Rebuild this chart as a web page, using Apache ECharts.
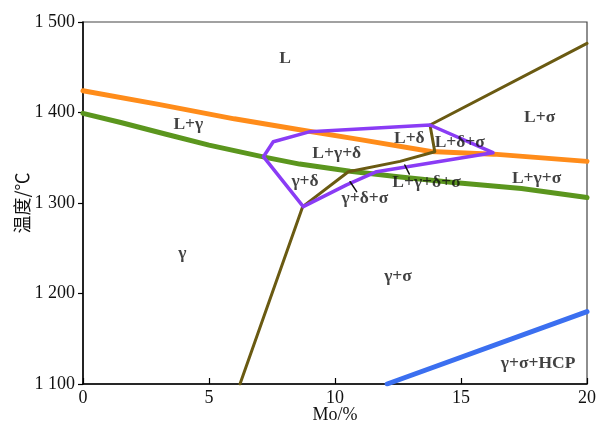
<!DOCTYPE html>
<html>
<head>
<meta charset="utf-8">
<script src="https://cdn.jsdelivr.net/npm/echarts@6/dist/echarts.min.js"></script>
<style>
  html, body { margin: 0; padding: 0; background: #fff; }
  #chart { width: 597px; height: 426px; }
</style>
</head>
<body>
<div id="chart"></div>
<script>
// Fe–Cr–Ni–Mo section: temperature vs. Mo content
const xTicks = [0, 5, 10, 15, 20];
const yTicks = [1100, 1200, 1300, 1400, 1500];

// Boundary lines, [Mo %, temperature °C]
const liquidusOrange = [[0, 1424], [3, 1409], [6, 1393], [8.6, 1381], [11, 1370], [13.8, 1357], [16.3, 1354], [20, 1346]];
const solidusGreen = [[0, 1399], [1.5, 1389], [3.3, 1376], [5, 1364], [7.15, 1351], [8.6, 1343], [10.6, 1335], [12.5, 1329], [14.6, 1323], [17.4, 1316], [20, 1306]];
const hcpBlue = [[12.07, 1100], [20, 1180]];
const sigmaOlive = [[6.23, 1100], [8.72, 1296], [10.53, 1334.6], [12.58, 1346], [13.96, 1356.7], [13.77, 1386.2], [20, 1476.4]];
const deltaPurple = [[7.16, 1351.2], [7.55, 1367.7], [9.01, 1378.8], [13.77, 1386.2], [16.27, 1355.6], [11.65, 1334.6], [10.46, 1320], [8.74, 1296], [7.16, 1351.2]];
const leaderA = [[10.6, 1323.5], [10.86, 1312.5]];
const leaderB = [[12.77, 1342], [12.95, 1332]];

// Phase-field labels
const phaseNames = ['L', 'L+γ', 'L+δ', 'L+δ+σ', 'L+σ', 'L+γ+δ', 'γ+δ', 'L+γ+δ+σ', 'γ+δ+σ', 'L+γ+σ', 'γ', 'γ+σ', 'γ+σ+HCP'];
const phaseX = [8.02, 4.18, 12.95, 14.95, 18.12, 10.07, 8.81, 13.63, 11.19, 18.0, 3.94, 12.5, 18.06];
const phaseY = [1460, 1387, 1371, 1366.7, 1395, 1355, 1323.5, 1322.5, 1305, 1327, 1244, 1219, 1123];

const serif = "'Liberation Serif', 'Times New Roman', serif";

function lineSeries(data, color, width) {
  return {
    type: 'line', data: data, showSymbol: false, symbol: 'none',
    lineStyle: { color: color, width: width, cap: 'round', join: 'round' },
    silent: true, animation: false, z: 3
  };
}

const chart = echarts.init(document.getElementById('chart'), null, { renderer: 'canvas' });

chart.setOption({
  animation: false,
  backgroundColor: '#ffffff',
  grid: {
    left: 83, right: 10, top: 22, bottom: 42,
    containLabel: false, outerBoundsMode: 'none',
    show: true, borderColor: '#444', borderWidth: 1.2, backgroundColor: 'transparent'
  },
  xAxis: {
    type: 'value', min: xTicks[0], max: xTicks[xTicks.length - 1], interval: 5,
    name: 'Mo/%', nameLocation: 'middle', nameGap: 22, nameMoveOverlap: false,
    nameTextStyle: { fontFamily: serif, fontSize: 18, color: '#111' },
    axisLine: { lineStyle: { color: '#000', width: 1.5 } },
    axisTick: { inside: true, length: 6, lineStyle: { color: '#000', width: 1.2 } },
    axisLabel: { fontFamily: serif, fontSize: 18, color: '#111', margin: 5 },
    splitLine: { show: false }
  },
  yAxis: {
    type: 'value', min: yTicks[0], max: yTicks[yTicks.length - 1], interval: 100,
    name: '温度/℃', nameLocation: 'middle', nameGap: 52, nameRotate: 90, nameMoveOverlap: false,
    nameTextStyle: { fontFamily: "'Noto Sans CJK SC', sans-serif", fontSize: 18, color: '#111' },
    axisLine: { lineStyle: { color: '#000', width: 1.5 } },
    axisTick: { inside: false, length: 5, lineStyle: { color: '#000', width: 1.2 } },
    axisLabel: {
      fontFamily: serif, fontSize: 18, color: '#111', margin: 8,
      formatter: v => String(v).replace(/^(\d)(\d{3})$/, '$1 $2')
    },
    splitLine: { show: false }
  },
  series: [
    lineSeries(liquidusOrange, '#ff8c1a', 5),
    lineSeries(solidusGreen, '#5b961e', 5),
    lineSeries(hcpBlue, '#3b6ff0', 5),
    lineSeries(sigmaOlive, '#6a5a12', 3),
    lineSeries(deltaPurple, '#8a3cf5', 3.5),
    lineSeries(leaderA, '#111', 1.5),
    lineSeries(leaderB, '#111', 1.5),
    {
      type: 'scatter', symbolSize: 0, silent: true, z: 5,
      data: phaseNames.map((n, i) => ({ value: [phaseX[i], phaseY[i]], name: n })),
      label: {
        show: true, position: 'inside', formatter: p => p.name,
        fontFamily: serif, fontSize: 17.5, fontWeight: 'bold', color: '#111'
      }
    }
  ]
});
</script>
</body>
</html>
